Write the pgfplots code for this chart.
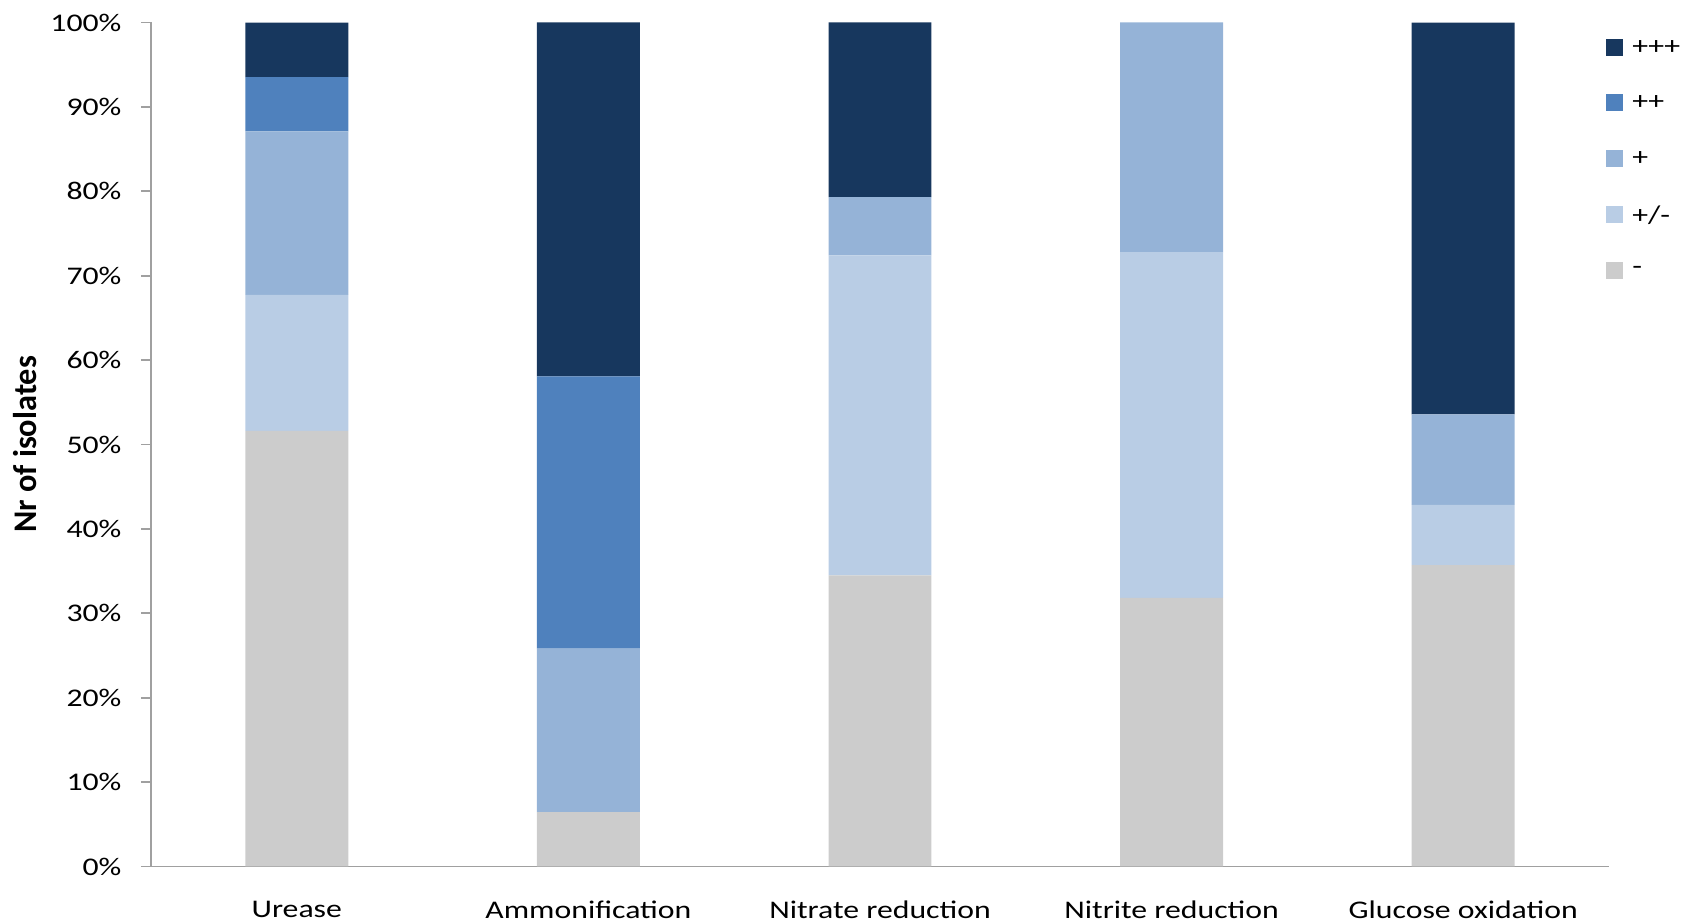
\documentclass[border=0pt]{standalone}
\usepackage{fontspec}
\setmainfont{Carlito}[FakeStretch=1.25]
\newfontfamily\ylabfont{Carlito}[FakeStretch=0.98]
\usepackage{pgfplots}
\pgfplotsset{compat=1.18}
\definecolor{cA}{HTML}{17375E}
\definecolor{cB}{HTML}{4F81BD}
\definecolor{cC}{HTML}{95B3D7}
\definecolor{cD}{HTML}{B9CDE5}
\definecolor{cE}{HTML}{CCCCCC}
\definecolor{axgray}{HTML}{A0A0A0}
\begin{document}
\begin{tikzpicture}[font=\fontsize{12.7}{15}\selectfont]
\path[use as bounding box] (-75.5pt,-28.5pt) rectangle (765.5pt,433.25pt);
\begin{axis}[
  at={(0,0)}, anchor=south west,
  scale only axis, width=729pt, height=422pt,
  ybar stacked, bar width=0.353,
  xmin=-0.5, xmax=4.5, ymin=0, ymax=100,
  xtick={0,1,2,3,4},
  xticklabels={Urease,Ammonification,Nitrate reduction,Nitrite reduction,Glucose oxidation},
  ytick={0,10,...,100},
  yticklabels={0\%,10\%,20\%,30\%,40\%,50\%,60\%,70\%,80\%,90\%,100\%},
  axis x line*=bottom, axis y line*=left,
  axis line style={axgray, line width=0.9pt},
  x axis line style={-}, y axis line style={-},
  major x tick style={draw=none},
  major y tick style={axgray, line width=0.9pt},
  tick align=outside, major tick length=5pt,
  yticklabel style={inner sep=0pt, xshift=-9.6pt},
  xticklabel style={inner sep=0pt, yshift=-12pt, anchor=north},
  ylabel={\ylabfont\bfseries\fontsize{16.5}{18}\selectfont Nr of isolates},
  ylabel style={at={(axis description cs:-0.0864,0.5)}, anchor=center, rotate=0, inner sep=0pt},
  reverse legend,
  legend image code/.code={\fill[#1] (0pt,-4.25pt) rectangle (8.5pt,4.25pt);},
  legend style={at={(rel axis cs:1,1)}, anchor=north west, xshift=-1.5pt, yshift=-8pt,
    draw=none, fill=none, inner sep=0pt, row sep=19.3pt,
    nodes={inner sep=0pt, anchor=west, text depth=0pt},
    /tikz/every odd column/.style={column sep=4.5pt}},
  legend cell align=left,
]
\addplot[fill=cE, draw=none] coordinates {(0,51.61) (1,6.45) (2,34.48) (3,31.82) (4,35.71)};
\addplot[fill=cD, draw=none] coordinates {(0,16.13) (1,0) (2,37.93) (3,40.91) (4,7.14)};
\addplot[fill=cC, draw=none] coordinates {(0,19.35) (1,19.35) (2,6.90) (3,27.27) (4,10.71)};
\addplot[fill=cB, draw=none] coordinates {(0,6.45) (1,32.26) (2,0) (3,0) (4,0)};
\addplot[fill=cA, draw=none] coordinates {(0,6.45) (1,41.94) (2,20.69) (3,0) (4,46.43)};
\legend{-,+/-,+,++,+++}
\end{axis}
\end{tikzpicture}
\end{document}
